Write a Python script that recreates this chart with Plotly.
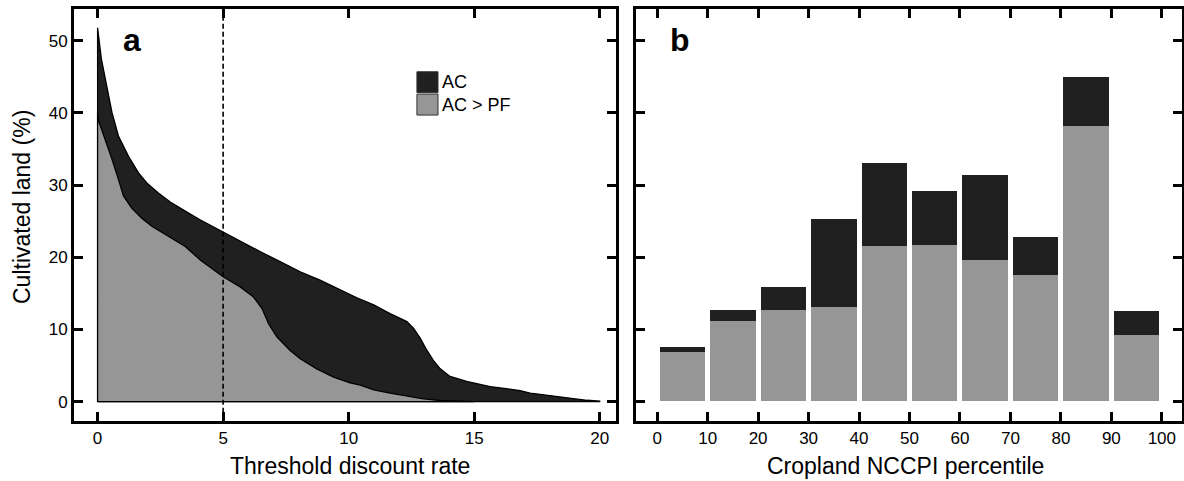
import plotly.graph_objects as go

# ---- Panel a data: threshold discount rate vs cultivated land (%) ----
ac_x = [0, 0.15, 0.3, 0.57, 0.83, 1.23, 1.63, 1.96, 2.42, 2.96, 3.49, 4.08, 5.0, 5.68,
        6.47, 7.27, 8.07, 8.86, 9.66, 10.33, 11.0, 11.65, 12.32, 12.58, 12.85, 13.12,
        13.38, 13.65, 14.04, 14.7, 15.64, 16.83, 17.23, 18.0, 18.83, 19.5, 20.0]
ac_y = [51.8, 47.5, 44.7, 40.1, 36.8, 34.0, 31.7, 30.3, 28.9, 27.5, 26.4, 25.2, 23.5, 22.2,
        20.8, 19.4, 18.0, 16.85, 15.5, 14.4, 13.4, 12.2, 11.1, 10.2, 8.8, 7.1,
        5.7, 4.55, 3.5, 2.8, 2.1, 1.55, 1.2, 0.85, 0.45, 0.2, 0.08]

pf_x = [0, 0.05, 0.3, 0.57, 0.83, 1.03, 1.36, 1.76, 2.16, 2.82, 3.49, 4.1, 5.0, 5.68,
        6.21, 6.55, 6.81, 7.14, 7.67, 8.07, 8.73, 9.4, 10.06, 10.46, 11.0, 11.65,
        12.32, 12.98, 13.65, 14.3, 15.0]
pf_y = [40.0, 38.8, 36.4, 33.6, 30.8, 28.5, 26.8, 25.4, 24.3, 22.9, 21.5, 19.6, 17.3, 15.9,
        14.5, 12.9, 10.8, 9.0, 7.1, 5.95, 4.55, 3.4, 2.6, 2.3, 1.65, 1.2,
        0.75, 0.4, 0.17, 0.05, 0.0]

# ---- Panel b data: cropland NCCPI percentile bins ----
bin_centers = [5, 15, 25, 35, 45, 55, 65, 75, 85, 95]
bar_total = [7.57, 12.69, 15.82, 25.28, 33.0, 29.2, 31.35, 22.77, 44.9, 12.57]
bar_pf = [6.83, 11.1, 12.6, 13.1, 21.5, 21.7, 19.65, 17.5, 38.1, 9.14]

x_ticks_a = [0, 5, 10, 15, 20]
x_ticks_b = [0, 10, 20, 30, 40, 50, 60, 70, 80, 90, 100]
y_ticks = [0, 10, 20, 30, 40, 50]
threshold = 5

DARK = "#202020"
GRAY = "#969696"
FONT = "Liberation Sans, Arial, Helvetica, sans-serif"

W, H = 1184, 481


def px(xp):
    return xp / W


def py(yp):
    return 1 - yp / H


fig = go.Figure()

# closed polygons (baseline included) so outline matches reference
ac_poly_x = [ac_x[0]] + ac_x + [ac_x[-1], ac_x[0]]
ac_poly_y = [0] + ac_y + [0, 0]
pf_poly_x = [pf_x[0]] + pf_x + [pf_x[-1], pf_x[0]]
pf_poly_y = [0] + pf_y + [0, 0]

fig.add_trace(go.Scatter(x=ac_poly_x, y=ac_poly_y, mode="lines", fill="toself",
                         fillcolor=DARK, line=dict(color="black", width=1.3),
                         showlegend=False, hoverinfo="skip", xaxis="x", yaxis="y"))
fig.add_trace(go.Scatter(x=pf_poly_x, y=pf_poly_y, mode="lines", fill="toself",
                         fillcolor=GRAY, line=dict(color="black", width=1.3),
                         showlegend=False, hoverinfo="skip", xaxis="x", yaxis="y"))

bar_top = [t - p for t, p in zip(bar_total, bar_pf)]
fig.add_trace(go.Bar(x=bin_centers, y=bar_pf, width=9, marker=dict(color=GRAY, line=dict(width=0)),
                     showlegend=False, xaxis="x2", yaxis="y2"))
fig.add_trace(go.Bar(x=bin_centers, y=bar_top, width=9, marker=dict(color=DARK, line=dict(width=0)),
                     showlegend=False, xaxis="x2", yaxis="y2"))

axis_common = dict(showline=True, linewidth=3, linecolor="black", mirror="ticks",
                   ticks="inside", ticklen=9, tickwidth=2.5, tickcolor="black",
                   showgrid=False, zeroline=False, automargin=False,
                   tickfont=dict(family=FONT, size=17, color="black"))

dom_y = [py(420.7), py(9.3)]

fig.update_layout(
    width=W, height=H,
    margin=dict(l=0, r=0, t=0, b=0),
    paper_bgcolor="white", plot_bgcolor="white",
    barmode="stack", bargap=0,
    font=dict(family=FONT, color="black"),
    xaxis=dict(domain=[px(74), px(616)], range=[-0.94, 20.65], tickvals=x_ticks_a,
               anchor="y", **axis_common),
    yaxis=dict(domain=dom_y, range=[-2.63, 54.35], tickvals=y_ticks, anchor="x",
               **axis_common),
    xaxis2=dict(domain=[px(636), px(1182)], range=[-4.2, 104], tickvals=x_ticks_b,
                anchor="y2", **axis_common),
    yaxis2=dict(domain=dom_y, range=[-2.63, 54.35], tickvals=y_ticks, anchor="x2",
                showticklabels=False, **axis_common),
)

# dashed threshold line
fig.add_shape(type="line", xref="x", yref="y domain", x0=threshold, x1=threshold, y0=0, y1=1,
              line=dict(color="black", width=1.6, dash="5px,3px"))

# manual legend
legend_items = [("AC", DARK, 45.7, 42.8), ("AC > PF", GRAY, 42.6, 39.7)]
for label, col, ytop, ybot in legend_items:
    fig.add_shape(type="rect", xref="x", yref="y", x0=12.72, x1=13.56, y0=ybot, y1=ytop,
                  fillcolor=col, line=dict(color="#333333", width=1))
    fig.add_annotation(xref="x", yref="y", x=13.62, y=(ytop + ybot) / 2, text=label,
                       showarrow=False, xanchor="left", yanchor="middle",
                       font=dict(family=FONT, size=18, color="black"))

# panel letters
fig.add_annotation(xref="paper", yref="paper", x=px(132), y=py(40), text="<b>a</b>",
                   showarrow=False, xanchor="center", yanchor="middle",
                   font=dict(family=FONT, size=32, color="black"))
fig.add_annotation(xref="paper", yref="paper", x=px(680), y=py(40), text="<b>b</b>",
                   showarrow=False, xanchor="center", yanchor="middle",
                   font=dict(family=FONT, size=32, color="black"))

# axis titles
fig.add_annotation(xref="paper", yref="paper", x=px(350), y=py(466),
                   text="Threshold discount rate", showarrow=False,
                   xanchor="center", yanchor="middle",
                   font=dict(family=FONT, size=23, color="black"))
fig.add_annotation(xref="paper", yref="paper", x=px(905), y=py(466),
                   text="Cropland NCCPI percentile", showarrow=False,
                   xanchor="center", yanchor="middle",
                   font=dict(family=FONT, size=23, color="black"))
fig.add_annotation(xref="paper", yref="paper", x=px(22), y=py(207),
                   text="Cultivated land (%)", showarrow=False, textangle=-90,
                   xanchor="center", yanchor="middle",
                   font=dict(family=FONT, size=23, color="black"))

fig.write_html("out.html", post_script="document.body.style.margin='0';",
               config={"displayModeBar": False})
